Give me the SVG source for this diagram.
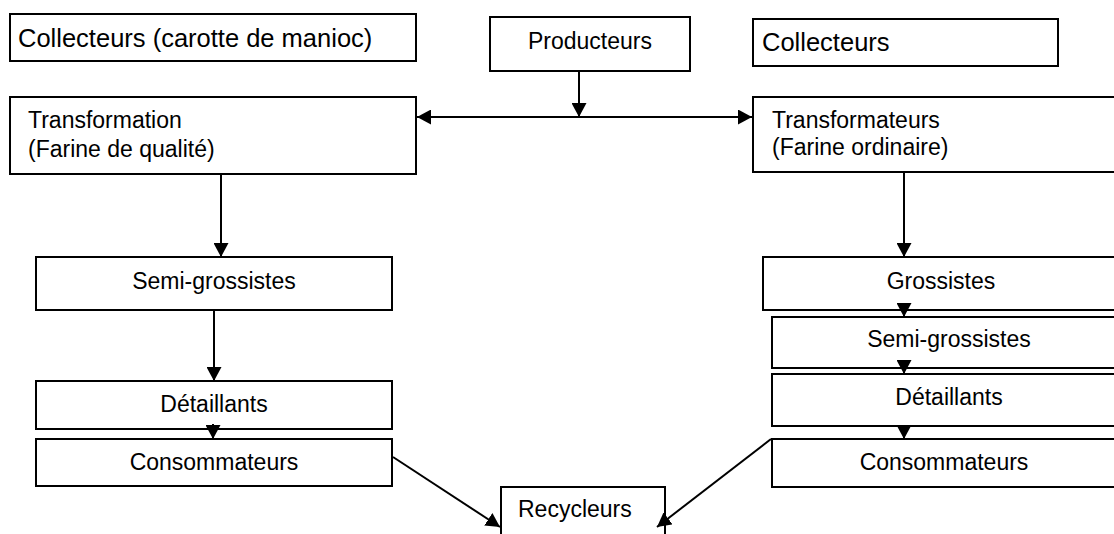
<svg xmlns="http://www.w3.org/2000/svg" width="1114" height="534" viewBox="0 0 1114 534">
<style>
.box{fill:#fff;stroke:#000;stroke-width:2}
.t{font-family:"Liberation Sans",Arial,sans-serif;font-size:23px;fill:#000}
.tl{font-family:"Liberation Sans",Arial,sans-serif;font-size:25.5px;fill:#000}
.c{text-anchor:middle}
.ln{stroke:#000;stroke-width:2;fill:none}
</style>
<defs>
<marker id="ah" markerUnits="userSpaceOnUse" markerWidth="15" markerHeight="15" refX="14" refY="7.5" orient="auto">
<path d="M0,0 L14,7.5 L0,15 Z" fill="#000"/>
</marker>
</defs>
<rect width="1114" height="534" fill="#fff"/>
<g id="n-collecteurs-gauche"><rect class="box" x="10" y="14" width="406" height="47"/><text class="tl" x="18" y="47">Collecteurs (carotte de manioc)</text></g>
<g id="n-producteurs"><rect class="box" x="490" y="17" width="200" height="54"/><text class="t c" x="590" y="49">Producteurs</text></g>
<g id="n-collecteurs-droite"><rect class="box" x="753" y="19" width="305" height="47"/><text class="tl" x="762" y="51">Collecteurs</text></g>
<g id="n-transformation"><rect class="box" x="10" y="97" width="406" height="77"/><text class="t" x="28" y="128">Transformation</text><text class="t" x="28" y="157">(Farine de qualité)</text></g>
<g id="n-transformateurs"><rect class="box" x="753" y="97" width="380" height="75"/><text class="t" x="772" y="128">Transformateurs</text><text class="t" x="772" y="155">(Farine ordinaire)</text></g>
<g id="n-semi-gauche"><rect class="box" x="36" y="257" width="356" height="53"/><text class="t c" x="214" y="289">Semi-grossistes</text></g>
<g id="n-detail-gauche"><rect class="box" x="36" y="381" width="356" height="48"/><text class="t c" x="214" y="412">Détaillants</text></g>
<g id="n-conso-gauche"><rect class="box" x="36" y="439" width="356" height="47"/><text class="t c" x="214" y="470">Consommateurs</text></g>
<g id="n-grossistes"><rect class="box" x="763" y="257" width="370" height="53"/><text class="t c" x="941" y="289">Grossistes</text></g>
<g id="n-semi-droite"><rect class="box" x="772" y="317" width="360" height="51"/><text class="t c" x="949" y="347">Semi-grossistes</text></g>
<g id="n-detail-droite"><rect class="box" x="772" y="374" width="360" height="52"/><text class="t c" x="949" y="405">Détaillants</text></g>
<g id="n-conso-droite"><rect class="box" x="772" y="439" width="360" height="48"/><text class="t c" x="944" y="470">Consommateurs</text></g>
<g id="n-recycleurs"><rect class="box" x="501" y="487" width="164" height="60"/><text class="t" x="518" y="517">Recycleurs</text></g>
<g id="connectors">
<line class="ln" x1="579" y1="71" x2="579" y2="117" marker-end="url(#ah)"/>
<line class="ln" x1="579" y1="117" x2="417" y2="117" marker-end="url(#ah)"/>
<line class="ln" x1="579" y1="117" x2="752" y2="117" marker-end="url(#ah)"/>
<line class="ln" x1="221" y1="174" x2="221" y2="257" marker-end="url(#ah)"/>
<line class="ln" x1="904" y1="172" x2="904" y2="257" marker-end="url(#ah)"/>
<line class="ln" x1="214" y1="310" x2="214" y2="381" marker-end="url(#ah)"/>
<line class="ln" x1="213" y1="424" x2="213" y2="439" marker-end="url(#ah)"/>
<line class="ln" x1="904" y1="305" x2="904" y2="317" marker-end="url(#ah)"/>
<line class="ln" x1="904" y1="362" x2="904" y2="374" marker-end="url(#ah)"/>
<line class="ln" x1="904" y1="425" x2="904" y2="439" marker-end="url(#ah)"/>
<line class="ln" x1="393" y1="457" x2="500" y2="527" marker-end="url(#ah)"/>
<line class="ln" x1="771" y1="439" x2="657" y2="527" marker-end="url(#ah)"/>
</g>
</svg>
